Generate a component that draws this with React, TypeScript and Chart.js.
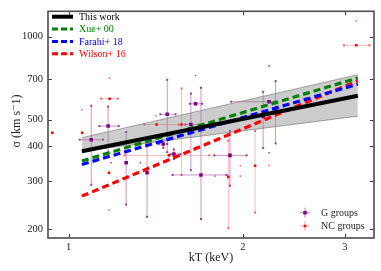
import React, { useEffect, useRef } from 'react';
import { Chart, registerables } from 'chart.js';

Chart.register(...registerables);

// ---- tick labels ----
const xTicks = [1, 2, 3];
const yTicks = [200, 300, 400, 500, 700, 1000];

// ---- fitted relations (kT in keV, sigma in km/s) ----
const fitKT = [1.054, 3.16];
const thisWork = [384, 611];
const xue00 = [354, 709];
const farahi18 = [344, 673];
const wilson16 = [264, 692];
const bandUpper = [430, 728];
const bandLower = [384, 515];

// ---- G groups ----
const gKT = [1.094, 1.17, 1.257, 1.366, 1.48, 1.457, 1.52, 1.626, 1.657, 1.693, 1.9, 2.168, 2.278, 2.22];
const gSigma = [423, 474, 349, 321, 523, 408, 375, 480, 571, 315, 371, 514, 546, 581];
const gKTlo = [1.045, 1.13, 1.257, 1.366, 1.44, 1.43, 1.5, 1.59, 1.62, 1.512, 1.785, 2.168, 2.278, 1.909];
const gKThi = [1.146, 1.22, 1.257, 1.366, 1.53, 1.48, 1.56, 1.68, 1.7, 1.874, 2.03, 2.168, 2.278, 2.27];
const gSigLo = [290, 380, 246, 222, 381, 395, 360, 328, 571, 218, 288, 394, 410, 581];
const gSigHi = [562, 558, 451, 413, 698, 420, 390, 622, 571, 653, 455, 631, 690, 581];
// isolated faint caps (G)
const gDotKT = [1.184, 1.33, 1.657, 2.22, 2.22];
const gDotSigma = [349, 349, 723, 784, 379];

// ---- NC groups ----
const ncKT = [1.177, 1.055, 0.937, 1.419, 1.174, 1.49, 1.567, 1.887, 2.1, 3.14];
const ncSigma = [596, 448, 448, 480, 321, 371, 480, 310, 340, 931];
const ncKTlo = [1.138, 1.055, 0.937, 1.35, 1.174, 1.248, 1.567, 1.887, 2.1, 2.99];
const ncKThi = [1.216, 1.055, 0.937, 1.55, 1.174, 1.75, 1.567, 1.887, 2.1, 3.31];
const ncSigLo = [596, 448, 448, 480, 321, 371, 315, 202, 230, 931];
const ncSigHi = [596, 448, 448, 480, 321, 371, 649, 420, 455, 931];
// isolated faint caps (NC)
const ncDotKT = [1.177, 1.054, 1.416, 1.174, 3.14, 1.79, 1.98, 1.98, 2.22];
const ncDotSigma = [708, 543, 516, 235, 1140, 312, 312, 340, 341];

const FONT = '"Liberation Serif", "DejaVu Serif", serif';
const PURPLE = '#800080';
const RED = '#ff0000';
const GREEN = '#008000';
const BLUE = '#0000ff';

const pts = (xs: number[], ys: number[]) => xs.map((x, i) => ({ x, y: ys[i] }));

function drawErrors(
  chart: any,
  xs: number[], ys: number[], xlo: number[], xhi: number[], ylo: number[], yhi: number[],
  lineColor: string, capColor: string
) {
  const ctx = chart.ctx;
  const sx = chart.scales.x;
  const sy = chart.scales.y;
  ctx.save();
  ctx.lineWidth = 1;
  for (let i = 0; i < xs.length; i++) {
    const px = sx.getPixelForValue(xs[i]);
    const py = sy.getPixelForValue(ys[i]);
    const x0 = sx.getPixelForValue(xlo[i]);
    const x1 = sx.getPixelForValue(xhi[i]);
    const y0 = sy.getPixelForValue(ylo[i]);
    const y1 = sy.getPixelForValue(yhi[i]);
    ctx.strokeStyle = lineColor;
    if (Math.abs(x1 - x0) > 0.5) {
      ctx.beginPath();
      ctx.moveTo(x0, py);
      ctx.lineTo(x1, py);
      ctx.stroke();
      ctx.fillStyle = capColor;
      ctx.fillRect(x0 - 1, py - 1, 2, 2);
      ctx.fillRect(x1 - 1, py - 1, 2, 2);
    }
    if (Math.abs(y1 - y0) > 0.5) {
      ctx.beginPath();
      ctx.moveTo(px, y0);
      ctx.lineTo(px, y1);
      ctx.stroke();
      ctx.fillStyle = capColor;
      if (Math.abs(y0 - py) > 0.5) ctx.fillRect(px - 1, y0 - 1, 2, 2);
      if (Math.abs(y1 - py) > 0.5) ctx.fillRect(px - 1, y1 - 1, 2, 2);
    }
  }
  ctx.restore();
}

const overlay = {
  id: 'overlay',
  beforeDatasetsDraw(chart: any) {
    const { ctx, chartArea } = chart;
    ctx.save();
    ctx.beginPath();
    ctx.rect(chartArea.left, chartArea.top, chartArea.right - chartArea.left, chartArea.bottom - chartArea.top);
    ctx.clip();
    drawErrors(chart, ncKT, ncSigma, ncKTlo, ncKThi, ncSigLo, ncSigHi, 'rgba(255,0,0,0.28)', 'rgba(255,0,0,0.6)');
    drawErrors(chart, gKT, gSigma, gKTlo, gKThi, gSigLo, gSigHi, 'rgba(128,0,128,0.42)', 'rgba(128,0,128,0.75)');
    ctx.restore();
  },
  afterDraw(chart: any) {
    const { ctx, chartArea } = chart;
    const { left, right, top, bottom } = chartArea;
    const sx = chart.scales.x;
    const sy = chart.scales.y;
    ctx.save();
    // ticks (inside, all sides)
    ctx.strokeStyle = '#444';
    ctx.lineWidth = 1;
    ctx.beginPath();
    yTicks.forEach((v) => {
      const p = Math.round(sy.getPixelForValue(v)) + 0.5;
      ctx.moveTo(left, p); ctx.lineTo(left + 4, p);
      ctx.moveTo(right, p); ctx.lineTo(right - 4, p);
    });
    xTicks.forEach((v) => {
      const p = Math.round(sx.getPixelForValue(v)) + 0.5;
      ctx.moveTo(p, bottom); ctx.lineTo(p, bottom - 4);
      ctx.moveTo(p, top); ctx.lineTo(p, top + 4);
    });
    ctx.stroke();
    // frame
    ctx.strokeStyle = '#4d4d4d';
    ctx.lineWidth = 1.6;
    ctx.strokeRect(left, top, right - left, bottom - top);

    // top-left legend
    const items = [
      { label: 'This work', color: '#000000', dash: [] as number[], w: 4 },
      { label: 'Xue+ 00', color: GREEN, dash: [6, 3], w: 3 },
      { label: 'Farahi+ 18', color: BLUE, dash: [6, 3], w: 3 },
      { label: 'Wilson+ 16', color: RED, dash: [6, 3], w: 3 },
    ];
    ctx.font = `10px ${FONT}`;
    ctx.textBaseline = 'middle';
    ctx.textAlign = 'left';
    items.forEach((it, i) => {
      const y = 16.7 + i * 12.35;
      ctx.strokeStyle = it.color;
      ctx.lineWidth = it.w;
      ctx.setLineDash(it.dash);
      ctx.beginPath();
      ctx.moveTo(52, y);
      ctx.lineTo(73, y);
      ctx.stroke();
      ctx.setLineDash([]);
      ctx.fillStyle = it.color;
      ctx.fillText(it.label, 79, y + 0.5);
    });

    // bottom-right legend
    const items2 = [
      { label: 'G groups', line: 'rgba(128,0,128,0.5)', mk: PURPLE, s: 3.5 },
      { label: 'NC groups', line: 'rgba(255,0,0,0.35)', mk: RED, s: 2.6 },
    ];
    items2.forEach((it, i) => {
      const y = 212.7 + i * 13.3;
      const x = 305;
      ctx.strokeStyle = it.line;
      ctx.lineWidth = 1;
      ctx.beginPath();
      ctx.moveTo(x - 5, y); ctx.lineTo(x + 5, y);
      ctx.moveTo(x, y - 5); ctx.lineTo(x, y + 5);
      ctx.stroke();
      ctx.fillStyle = it.mk;
      ctx.fillRect(x - it.s / 2, y - it.s / 2, it.s, it.s);
      ctx.fillStyle = '#222';
      ctx.fillText(it.label, 321, y + 0.5);
    });

    // axis titles
    ctx.fillStyle = '#222';
    ctx.font = `12px ${FONT}`;
    ctx.textAlign = 'center';
    ctx.textBaseline = 'middle';
    ctx.fillText('kT (keV)', (left + right) / 2, 258);
    ctx.save();
    ctx.translate(17, 121);
    ctx.rotate(-Math.PI / 2);
    ctx.fillText('σ (km s⁻1)', 0, 0);
    ctx.restore();
    ctx.restore();
  },
};

export default function App() {
  const ref = useRef<HTMLCanvasElement>(null);
  useEffect(() => {
    const canvas = ref.current as HTMLCanvasElement;
    const lineDs = (label: string, ys: number[], color: string, width: number, dash: number[], order: number) => ({
      label,
      data: pts(fitKT, ys),
      showLine: true,
      borderColor: color,
      borderWidth: width,
      borderDash: dash,
      pointRadius: 0,
      fill: false,
      order,
    });
    const chart = new Chart(canvas, {
      type: 'scatter',
      data: {
        datasets: [
          lineDs('This work', thisWork, '#000000', 4, [], 0),
          lineDs('Xue+ 00', xue00, GREEN, 3.2, [7, 4], 1),
          lineDs('Farahi+ 18', farahi18, BLUE, 3.2, [7, 4], 2),
          lineDs('Wilson+ 16', wilson16, RED, 3.2, [7, 4], 3),
          {
            label: 'G groups',
            data: pts(gKT, gSigma),
            pointStyle: 'rect',
            pointRadius: 2.5,
            pointBackgroundColor: PURPLE,
            pointBorderWidth: 0,
            order: 4,
          },
          {
            label: 'NC groups',
            data: pts(ncKT, ncSigma),
            pointStyle: 'rect',
            pointRadius: 1.8,
            pointBackgroundColor: RED,
            pointBorderWidth: 0,
            order: 5,
          },
          {
            label: 'G caps',
            data: pts(gDotKT, gDotSigma),
            pointStyle: 'rect',
            pointRadius: 1.1,
            pointBackgroundColor: 'rgba(128,0,128,0.7)',
            pointBorderWidth: 0,
            order: 6,
          },
          {
            label: 'NC caps',
            data: pts(ncDotKT, ncDotSigma),
            pointStyle: 'rect',
            pointRadius: 1.1,
            pointBackgroundColor: 'rgba(255,0,0,0.6)',
            pointBorderWidth: 0,
            order: 7,
          },
          {
            label: 'band upper',
            data: pts(fitKT, bandUpper),
            showLine: true,
            borderColor: '#8a8a8a',
            borderWidth: 0.8,
            pointRadius: 0,
            backgroundColor: 'rgba(128,128,128,0.4)',
            fill: '+1',
            order: 10,
          },
          {
            label: 'band lower',
            data: pts(fitKT, bandLower),
            showLine: true,
            borderColor: '#8a8a8a',
            borderWidth: 0.8,
            pointRadius: 0,
            fill: false,
            order: 11,
          },
        ] as any,
      },
      options: {
        responsive: false,
        animation: false,
        devicePixelRatio: 1,
        layout: { padding: { top: 6, right: 7, left: 0, bottom: 0 } },
        plugins: { legend: { display: false }, tooltip: { enabled: false } },
        scales: {
          x: {
            type: 'logarithmic',
            min: 0.921,
            max: 3.37,
            afterFit: (s: any) => { s.height = 33; },
            afterBuildTicks: (s: any) => { s.ticks = xTicks.map((v) => ({ value: v })); },
            ticks: {
              callback: (v: any) => String(v),
              font: { family: FONT, size: 10.5 },
              color: '#222',
              padding: 3,
              maxRotation: 0,
              autoSkip: false,
            },
            grid: { display: false, drawTicks: false, tickLength: 0 },
            border: { display: false },
          },
          y: {
            type: 'logarithmic',
            min: 186,
            max: 1237,
            afterFit: (s: any) => { s.width = 48; },
            afterBuildTicks: (s: any) => { s.ticks = yTicks.map((v) => ({ value: v })); },
            ticks: {
              callback: (v: any) => String(v),
              font: { family: FONT, size: 10.5 },
              color: '#222',
              padding: 5,
              autoSkip: false,
            },
            grid: { display: false, drawTicks: false, tickLength: 0 },
            border: { display: false },
          },
        },
      } as any,
      plugins: [overlay],
    });
    return () => chart.destroy();
  }, []);
  return (
    <div style={{ position: 'fixed', left: 0, top: 0, width: 381, height: 271, background: '#fff' }}>
      <canvas ref={ref} width={381} height={271} style={{ display: 'block' }} />
    </div>
  );
}
